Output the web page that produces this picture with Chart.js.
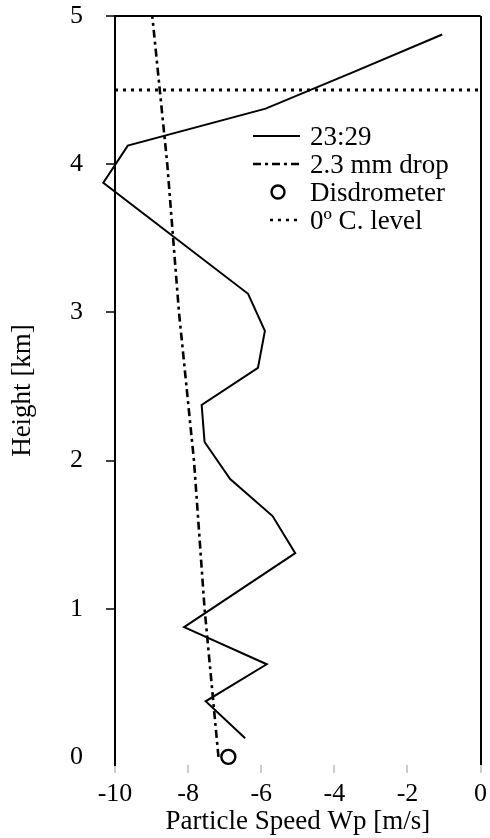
<!DOCTYPE html>
<html>
<head>
<meta charset="utf-8">
<script src="https://cdn.jsdelivr.net/npm/chart.js@4.4.1/dist/chart.umd.min.js"></script>
<style>
  body { margin: 0; background: #fff; }
  #wrap { position: relative; width: 490px; height: 838px; }
  #legend { position: absolute; left: 250px; top: 122px; font-family: "Liberation Serif", "Times New Roman", "DejaVu Serif", serif; font-size: 27px; color: #000; }
  #legend .row { height: 28px; display: flex; align-items: center; white-space: nowrap; }
  #legend svg { width: 52px; height: 28px; margin-right: 8px; flex: none; }
</style>
</head>
<body>
<div id="wrap">
  <canvas id="chart-profile" width="490" height="838"></canvas>
  <div id="legend"></div>
</div>
<script>
// 23:29 profile (height in km, speed in m/s)
var heights2329 = [0.125, 0.375, 0.625, 0.875, 1.375, 1.625, 1.875, 2.125, 2.375, 2.625, 2.875, 3.125, 3.875, 4.125, 4.375, 4.625, 4.875];
var speeds2329 = [-6.44, -7.52, -5.85, -8.11, -5.07, -5.69, -6.85, -7.55, -7.63, -6.09, -5.90, -6.36, -10.32, -9.65, -5.88, -3.45, -1.05];

// 2.3 mm drop terminal speed
var dropHeights = [0, 1, 2, 3, 4, 5];
var dropSpeeds = [-7.17, -7.55, -7.84, -8.25, -8.57, -8.98];

// disdrometer at ground
var disdroHeights = [0];
var disdroSpeeds = [-6.9];

var freezingLevel = 4.5;

var xTicks = [-10, -8, -6, -4, -2, 0];
var yTicks = [0, 1, 2, 3, 4, 5];

var legendLabels = ["23:29", "2.3 mm drop", "Disdrometer", "0\u00ba C. level"];

function pairs(xs, ys) {
  return xs.map(function (x, i) { return { x: x, y: ys[i] }; });
}

var serif = "'Liberation Serif', 'Times New Roman', 'DejaVu Serif', serif";

var ctx = document.getElementById("chart-profile").getContext("2d");

new Chart(ctx, {
  type: "scatter",
  data: {
    datasets: [{
      label: legendLabels[0],
      data: pairs(speeds2329, heights2329),
      showLine: true,
      borderColor: "#000",
      borderWidth: 2,
      pointRadius: 0,
      tension: 0,
      clip: false
    },
    {
      label: legendLabels[1],
      data: pairs(dropSpeeds, dropHeights),
      showLine: true,
      borderColor: "#000",
      borderWidth: 2.6,
      borderDash: [8, 4, 3, 4],
      pointRadius: 0,
      clip: false
    },
    {
      label: legendLabels[2],
      data: pairs(disdroSpeeds, disdroHeights),
      showLine: false,
      pointStyle: "circle",
      pointRadius: 7,
      pointBorderWidth: 2.4,
      pointBorderColor: "#000",
      pointBackgroundColor: "#fff",
      clip: false
    },
    {
      label: legendLabels[3],
      data: [{ x: xTicks[0], y: freezingLevel }, { x: xTicks[xTicks.length - 1], y: freezingLevel }],
      showLine: true,
      borderColor: "#000",
      borderWidth: 3,
      borderDash: [3, 5],
      pointRadius: 0
    }]
  },
  options: {
    responsive: false,
    animation: false,
    layout: { padding: { top: 16, right: 4, left: 0, bottom: 0 } },
    plugins: {
      legend: { display: false },
      tooltip: { enabled: false }
    },
    scales: {
      x: {
        type: "linear",
        min: -10,
        max: 0,
        afterBuildTicks: function (s) { s.ticks = xTicks.map(function (v) { return { value: v }; }); },
        afterFit: function (s) { s.height = 73; s.paddingLeft = 0; s.paddingRight = 0; },
        border: { display: false },
        grid: {
          drawOnChartArea: true,
          color: function (c) { return c.tick && c.tick.value === 0 ? "#000" : "rgba(0,0,0,0)"; },
          lineWidth: 2,
          tickLength: 8,
          tickColor: "#bbb",
          tickWidth: 1.5
        },
        ticks: {
          color: "#000",
          padding: 6,
          maxRotation: 0,
          font: { family: serif, size: 26 }
        },
        title: {
          display: true,
          text: "Particle Speed Wp [m/s]",
          color: "#000",
          padding: 0,
          font: { family: serif, size: 27 }
        }
      },
      y: {
        type: "linear",
        min: -0.055,
        max: 5,
        afterBuildTicks: function (s) { s.ticks = yTicks.map(function (v) { return { value: v }; }); },
        afterFit: function (s) { s.width = 115; s.paddingTop = 0; s.paddingBottom = 0; },
        border: { display: true, color: "#000", width: 2 },
        grid: {
          drawOnChartArea: true,
          color: function (c) { return c.tick && c.tick.value === 5 ? "#000" : "rgba(0,0,0,0)"; },
          lineWidth: 2,
          tickLength: 9,
          tickColor: function (c) { return c.tick && c.tick.value === 0 ? "rgba(0,0,0,0)" : "#000"; },
          tickWidth: 1.5
        },
        ticks: {
          color: "#000",
          padding: 23,
          font: { family: serif, size: 26 }
        },
        title: {
          display: true,
          text: "Height [km]",
          color: "#000",
          padding: { top: 7, bottom: 0 },
          font: { family: serif, size: 27 }
        }
      }
    }
  }
});

// legend inside the plot, drawn as html
var samples = [
  '<line x1="3" y1="14" x2="50" y2="14" stroke="#000" stroke-width="2"/>',
  '<line x1="3" y1="14" x2="50" y2="14" stroke="#000" stroke-width="2.4" stroke-dasharray="8 4 3 4"/>',
  '<circle cx="28" cy="14" r="6.5" fill="#fff" stroke="#000" stroke-width="2.4"/>',
  '<line x1="20" y1="14" x2="50" y2="14" stroke="#000" stroke-width="2.5" stroke-dasharray="3 5"/>'
];
var legend = document.getElementById("legend");
legendLabels.forEach(function (label, i) {
  var row = document.createElement("div");
  row.className = "row";
  row.innerHTML = '<svg viewBox="0 0 52 28">' + samples[i] + '</svg><span>' + label + '</span>';
  legend.appendChild(row);
});
</script>
</body>
</html>
